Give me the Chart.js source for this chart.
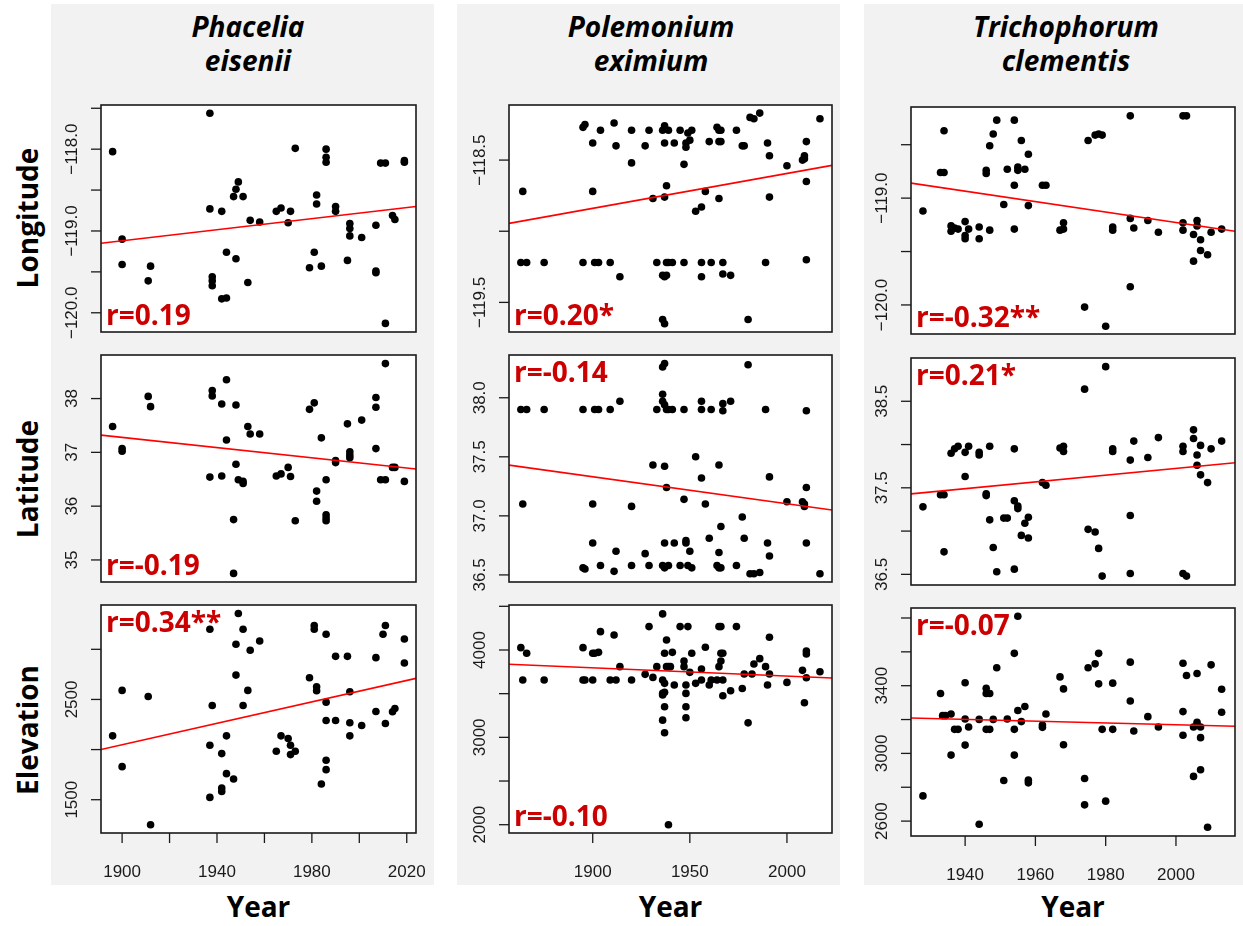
<!DOCTYPE html>
<html>
<head>
<meta charset="utf-8">
<script src="https://cdn.jsdelivr.net/npm/chart.js@4.4.1/dist/chart.umd.min.js"></script>
<style>
  body { margin: 0; background: #fff; width: 1243px; height: 926px; position: relative; overflow: hidden; }
  .panel { position: absolute; top: 4px; height: 881px; background: #f2f2f2; }
  .title { position: absolute; top: 9px; width: 300px; text-align: center; font: italic 700 28px/34px "Open Sans", sans-serif; color: #000; }
  .rowlab { position: absolute; width: 220px; height: 34px; text-align: center; font: 700 28px/34px "Open Sans", sans-serif; transform: rotate(-90deg); }
  .xlab { position: absolute; top: 889px; width: 200px; text-align: center; font: 700 28px/34px "Open Sans", sans-serif; }
  canvas { position: absolute; }
</style>
</head>
<body>
<script>
// ---- Phacelia eisenii ----
const phaceliaLonYear = [1896, 1900, 1900, 1911, 1912, 1937, 1937, 1938, 1938, 1938,
  1942, 1944, 1942, 1944, 1947, 1948, 1949, 1951, 1948, 1953,
  1954, 1958, 1965, 1967, 1971, 1970, 1973, 1982, 1982, 1981,
  1979, 1984, 1986, 1986, 1986, 1990, 1990, 1996, 1996, 1996,
  1995, 2001, 2007, 2007, 2007, 2009, 2011, 2011, 2014, 2015,
  2019, 2019];
const phaceliaLon = [-118.03, -119.10, -119.41, -119.61, -119.43, -117.56, -118.73, -119.56, -119.61, -119.67,
  -118.76, -119.26, -119.83, -119.82, -118.58, -118.49, -118.40, -118.58, -119.34, -119.63,
  -118.87, -118.89, -118.76, -118.72, -118.76, -118.90, -117.99, -118.56, -118.67, -119.26,
  -119.45, -119.43, -118.00, -118.10, -118.16, -118.70, -118.76, -118.91, -118.97, -119.06,
  -119.36, -119.08, -118.93, -119.49, -119.51, -118.17, -118.17, -120.13, -118.81, -118.86,
  -118.14, -118.16];

const phaceliaLatYear = [1896, 1900, 1900, 1911, 1912, 1938, 1938, 1937, 1942, 1942,
  1944, 1944, 1948, 1948, 1947, 1947, 1949, 1951, 1951, 1953,
  1954, 1958, 1965, 1967, 1970, 1971, 1973, 1979, 1981, 1982,
  1982, 1984, 1986, 1986, 1986, 1986, 1990, 1990, 1995, 1996,
  1996, 1996, 2001, 2007, 2007, 2007, 2009, 2011, 2011, 2014,
  2015, 2019];
const phaceliaLat = [37.48, 37.07, 37.02, 38.04, 37.85, 38.15, 38.05, 36.54, 37.90, 36.56,
  38.35, 37.23, 37.88, 36.78, 35.75, 34.75, 36.49, 36.46, 36.42, 37.48,
  37.34, 37.34, 36.56, 36.60, 36.72, 36.55, 35.73, 37.80, 37.92, 36.28,
  36.09, 37.27, 36.49, 35.84, 35.78, 35.73, 36.85, 36.81, 37.53, 37.01,
  36.95, 36.90, 37.60, 38.02, 37.84, 37.07, 36.49, 36.49, 38.65, 36.72,
  36.72, 36.46];

const phaceliaElevYear = [1896, 1900, 1900, 1911, 1912, 1937, 1938, 1937, 1937, 1942,
  1942, 1942, 1944, 1944, 1947, 1948, 1948, 1949, 1951, 1951,
  1953, 1954, 1958, 1965, 1967, 1970, 1971, 1971, 1973, 1979,
  1981, 1981, 1982, 1982, 1986, 1986, 1986, 1986, 1986, 1984,
  1990, 1990, 1995, 1996, 1996, 1996, 2001, 2007, 2007, 2011,
  2010, 2011, 2014, 2015, 2019, 2019];
const phaceliaElev = [2137, 2590, 1830, 2530, 1250, 3200, 2440, 1523, 2043, 1960,
  1617, 1583, 2137, 1760, 1707, 3050, 2743, 3357, 3200, 2440,
  2590, 2990, 3083, 1983, 2137, 2110, 2043, 1950, 1983, 2717,
  3237, 3200, 2627, 2587, 3150, 2473, 2290, 1893, 1800, 1657,
  2930, 2290, 2930, 2577, 2267, 2137, 2240, 2917, 2380, 3237,
  3150, 2260, 2377, 2410, 3103, 2863];

// ---- Polemonium eximium ----
const polemoniumLonYear = [1864, 1863, 1866, 1875, 1895, 1896, 1895, 1900, 1900, 1901,
  1903, 1904, 1909, 1911, 1912, 1914, 1920, 1920, 1927, 1929,
  1931, 1933, 1936, 1937, 1937, 1939, 1937, 1938, 1936, 1937,
  1938, 1938, 1939, 1941, 1936, 1937, 1942, 1945, 1947, 1947,
  1948, 1948, 1949, 1950, 1951, 1953, 1956, 1956, 1956, 1958,
  1960, 1961, 1964, 1965, 1966, 1965, 1966, 1965, 1967, 1967,
  1971, 1974, 1977, 1978, 1980, 1981, 1983, 1986, 1989, 1990,
  1991, 1991, 2000, 2008, 2009, 2009, 2010, 2010, 2010, 2017];
const polemoniumLon = [-118.72, -119.22, -119.22, -119.22, -118.27, -118.25, -119.22, -118.38, -118.72, -119.22,
  -119.22, -118.29, -119.22, -118.24, -118.40, -119.32, -118.29, -118.52, -118.40, -118.29,
  -118.77, -119.22, -118.29, -118.26, -118.38, -118.29, -118.76, -118.68, -119.31, -119.32,
  -119.31, -119.22, -119.22, -119.22, -119.62, -119.65, -118.38, -118.29, -118.53, -119.22,
  -118.38, -118.41, -118.31, -118.36, -118.29, -118.86, -118.83, -119.22, -119.32, -118.72,
  -118.37, -119.22, -118.27, -118.29, -118.29, -118.37, -118.37, -118.77, -119.22, -119.30,
  -119.31, -118.29, -118.40, -118.40, -119.62, -118.20, -118.21, -118.17, -119.22, -118.38,
  -118.47, -118.76, -118.54, -118.50, -118.49, -118.47, -118.37, -118.65, -119.20, -118.21];

const polemoniumLatYear = [1863, 1866, 1864, 1875, 1895, 1895, 1896, 1900, 1900, 1901,
  1903, 1904, 1909, 1911, 1912, 1914, 1920, 1920, 1927, 1929,
  1931, 1933, 1936, 1937, 1936, 1936, 1937, 1938, 1939, 1941,
  1937, 1938, 1937, 1936, 1937, 1939, 1942, 1945, 1947, 1947,
  1948, 1948, 1950, 1949, 1951, 1953, 1956, 1956, 1956, 1958,
  1960, 1961, 1964, 1965, 1965, 1965, 1966, 1966, 1967, 1967,
  1971, 1974, 1977, 1978, 1980, 1981, 1983, 1986, 1989, 1990,
  1991, 1991, 2000, 2008, 2009, 2009, 2010, 2010, 2010, 2017];
const polemoniumLat = [37.90, 37.90, 37.10, 37.90, 37.90, 36.56, 36.55, 37.10, 36.77, 37.90,
  37.90, 36.58, 37.90, 36.53, 36.70, 37.97, 37.08, 36.58, 36.68, 36.58,
  37.43, 37.90, 38.26, 38.29, 38.03, 37.97, 37.94, 37.90, 37.90, 37.90,
  37.42, 37.24, 36.77, 36.58, 36.56, 36.58, 36.77, 36.58, 37.90, 37.14,
  36.79, 36.77, 36.70, 36.58, 36.56, 37.50, 37.32, 37.97, 37.90, 37.10,
  36.81, 37.90, 36.58, 37.43, 36.69, 36.56, 36.56, 36.91, 37.95, 37.89,
  37.97, 36.58, 36.99, 36.81, 38.28, 36.51, 36.51, 36.52, 37.90, 36.77,
  37.33, 36.66, 37.12, 37.12, 37.10, 37.08, 37.24, 37.89, 36.77, 36.51];

const polemoniumElevYear = [1863, 1866, 1864, 1875, 1895, 1895, 1896, 1900, 1900, 1901,
  1903, 1904, 1909, 1911, 1912, 1914, 1920, 1927, 1929, 1931,
  1933, 1936, 1936, 1936, 1936, 1937, 1937, 1936, 1937, 1937,
  1937, 1938, 1938, 1939, 1940, 1939, 1941, 1942, 1945, 1947,
  1947, 1948, 1948, 1948, 1948, 1949, 1950, 1951, 1953, 1956,
  1956, 1958, 1960, 1961, 1964, 1965, 1965, 1966, 1966, 1967,
  1966, 1967, 1967, 1971, 1974, 1977, 1978, 1980, 1982, 1983,
  1986, 1989, 1990, 1991, 1991, 2000, 2008, 2009, 2010, 2010,
  2010, 2017];
const polemoniumElev = [4027, 3962, 3656, 3656, 4027, 3656, 3656, 3962, 3656, 3962,
  3973, 4210, 3656, 4172, 3656, 3809, 3656, 3721, 4268, 3686,
  3809, 4413, 3656, 3503, 3484, 3515, 3350, 3197, 3052, 3962,
  3618, 4115, 3809, 3809, 3809, 2000, 3973, 3599, 4268, 3874,
  3809, 3599, 3503, 3350, 3224, 4268, 3744, 3962, 3618, 3782,
  3656, 4031, 3599, 3656, 3656, 3809, 4268, 4268, 3962, 3962,
  3874, 3656, 3476, 3534, 4268, 3560, 3725, 3166, 3725, 3840,
  3901, 3809, 3599, 3725, 4145, 3629, 3767, 3396, 3989, 3954,
  3683, 3751];

// ---- Trichophorum clementis ----
const trichophorumLonYear = [1928, 1933, 1934, 1934, 1936, 1936, 1937, 1938, 1940, 1940,
  1940, 1941, 1944, 1944, 1947, 1946, 1946, 1947, 1948, 1949,
  1951, 1952, 1954, 1954, 1954, 1955, 1955, 1956, 1957, 1958,
  1958, 1962, 1963, 1967, 1968, 1968, 1974, 1975, 1977, 1978,
  1979, 1980, 1982, 1982, 1987, 1987, 1987, 1988, 1992, 1995,
  2002, 2003, 2002, 2002, 2005, 2005, 2006, 2006, 2007, 2007,
  2009, 2010, 2013];
const trichophorumLon = [-119.12, -118.76, -118.76, -118.37, -119.26, -119.31, -119.28, -119.29, -119.22, -119.35,
  -119.38, -119.29, -119.27, -119.38, -119.30, -118.74, -118.77, -118.51, -118.40, -118.27,
  -119.06, -118.73, -118.27, -118.88, -119.29, -118.71, -118.74, -118.46, -118.73, -118.59,
  -119.07, -118.88, -118.88, -119.30, -119.23, -119.29, -120.02, -118.46, -118.41, -118.40,
  -118.41, -120.20, -119.27, -119.30, -118.23, -119.19, -119.83, -119.28, -119.21, -119.32,
  -118.23, -118.23, -119.23, -119.30, -119.34, -119.59, -119.21, -119.26, -119.39, -119.49,
  -119.53, -119.32, -119.29];

const trichophorumLatYear = [1928, 1933, 1934, 1934, 1936, 1937, 1938, 1940, 1941, 1940,
  1944, 1944, 1946, 1946, 1947, 1947, 1948, 1949, 1951, 1952,
  1954, 1954, 1955, 1955, 1954, 1956, 1957, 1958, 1958, 1962,
  1963, 1967, 1968, 1968, 1974, 1975, 1977, 1978, 1980, 1979,
  1982, 1982, 1987, 1987, 1987, 1988, 1992, 1995, 2002, 2002,
  2002, 2003, 2005, 2005, 2006, 2006, 2007, 2007, 2009, 2010,
  2013];
const trichophorumLat = [37.28, 37.42, 37.42, 36.76, 37.90, 37.95, 37.98, 37.91, 37.98, 37.63,
  37.88, 37.91, 37.43, 37.41, 37.98, 37.13, 36.81, 36.53, 37.15, 37.15,
  37.95, 37.35, 37.29, 37.26, 36.56, 36.95, 37.09, 37.16, 36.92, 37.56,
  37.53, 37.96, 37.98, 37.92, 38.64, 37.02, 36.99, 36.80, 38.90, 36.48,
  37.95, 37.92, 37.82, 37.18, 36.51, 38.04, 37.85, 38.08, 37.98, 37.92,
  36.51, 36.48, 38.17, 38.07, 37.88, 37.76, 37.99, 37.65, 37.56, 37.95,
  38.04];

const trichophorumElevYear = [1928, 1933, 1933.6, 1934.4, 1936, 1936, 1937, 1938, 1940, 1940,
  1940, 1941, 1944, 1944, 1946, 1946, 1946, 1947, 1947, 1948,
  1949, 1951, 1952, 1954, 1954, 1954, 1955, 1955, 1956, 1957,
  1958, 1958, 1962, 1962, 1963, 1967, 1968, 1968, 1974, 1974,
  1975, 1977, 1978, 1978, 1979, 1980, 1982, 1982, 1987, 1987,
  1988, 1992, 1995, 2002, 2002, 2002, 2003, 2005, 2005, 2006,
  2006, 2007, 2007, 2007, 2009, 2010, 2013, 2013];
const trichophorumElev = [2749, 3354, 3223, 3223, 3233, 2990, 3142, 3142, 3203, 3417,
  3049, 3156, 3201, 2581, 3385, 3354, 3142, 3354, 3142, 3201,
  3506, 2840, 3203, 3591, 3142, 2990, 3810, 3253, 3188, 3277,
  2842, 2826, 3168, 3154, 3233, 3452, 3381, 3051, 2852, 2696,
  3506, 3529, 3591, 3411, 3142, 2718, 3415, 3142, 3539, 3310,
  3132, 3217, 3156, 3533, 3247, 3107, 3460, 3156, 2864, 3472,
  3184, 3156, 3093, 2903, 2564, 3523, 3379, 3243];

// fitted lines: value at the left and right edge of each panel (column by column)
const trendStart = [-119.15, 37.32, 2000, -118.945, 37.43, 3836, -118.86, 37.43, 3209];
const trendEnd = [-118.70, 36.69, 2710, -118.537, 37.05, 3679, -119.31, 37.79, 3160];
const rLabels = ['r=0.19', 'r=-0.19', 'r=0.34**', 'r=0.20*', 'r=-0.14', 'r=-0.10', 'r=-0.32**', 'r=0.21*', 'r=-0.07'];
const rAtTop = [false, false, true, false, true, false, false, true, true];

const speciesNames = [['Phacelia', 'eisenii'], ['Polemonium', 'eximium'], ['Trichophorum', 'clementis']];
const rowNames = ['Longitude', 'Latitude', 'Elevation'];

const xTicks = [[1900, 1920, 1940, 1960, 1980, 2000, 2020], [1900, 1950, 2000], [1940, 1960, 1980, 2000]];
const xTickLabels = [['1900', '', '1940', '', '1980', '', '2020'], ['1900', '1950', '2000'], ['1940', '1960', '1980', '2000']];

const yTicks = [
  [-117.5, -118, -118.5, -119, -119.5, -120], [35, 36, 37, 38], [1500, 2000, 2500, 3000],
  [-118.5, -119, -119.5], [36.5, 37, 37.5, 38], [2000, 2500, 3000, 3500, 4000, 4500],
  [-118.5, -119, -119.5, -120], [36.5, 37, 37.5, 38, 38.5], [2600, 2800, 3000, 3200, 3400, 3600, 3800]
];
const yTickLabels = [
  ['', '\u2212118.0', '', '\u2212119.0', '', '\u2212120.0'], ['35', '36', '37', '38'], ['1500', '', '2500', ''],
  ['\u2212118.5', '', '\u2212119.5'], ['36.5', '37.0', '37.5', '38.0'], ['2000', '', '3000', '', '4000', ''],
  ['', '\u2212119.0', '', '\u2212120.0'], ['36.5', '', '37.5', '', '38.5'], ['2600', '', '3000', '', '3400', '', '']
];

// axis limits per column / panel
const xLimits = [[1891.1, 2023.9], [1856.9, 2023.2], [1924.6, 2016.8]];
const yLimits = [
  [-120.235, -117.46], [34.59, 38.81], [1168, 3442],
  [-119.708, -118.113], [36.44, 38.362], [1905, 4515],
  [-120.272, -118.147], [36.377, 39.0], [2512, 3859]
];

const seriesX = [phaceliaLonYear, phaceliaLatYear, phaceliaElevYear,
  polemoniumLonYear, polemoniumLatYear, polemoniumElevYear,
  trichophorumLonYear, trichophorumLatYear, trichophorumElevYear];
const seriesY = [phaceliaLon, phaceliaLat, phaceliaElev,
  polemoniumLon, polemoniumLat, polemoniumElev,
  trichophorumLon, trichophorumLat, trichophorumElev];

// plot box positions on the page
const colBox = [[101, 416], [509, 832], [911, 1235]];
const rowBox = [
  [[105, 332], [355, 582], [605, 833]],
  [[105, 332], [355, 582], [605, 833]],
  [[107, 334], [358, 585], [608, 836]]
];
const greyPanels = [[51, 434], [457, 840], [864, 1243]];
const titleCenters = [248, 651, 1066];
const rowLabelCenters = [218, 479, 730];

function addDiv(cls, text, css) {
  const d = document.createElement('div');
  d.className = cls;
  d.innerHTML = text;
  Object.assign(d.style, css);
  document.body.appendChild(d);
  return d;
}

greyPanels.forEach(g => addDiv('panel', '', { left: g[0] + 'px', width: (g[1] - g[0]) + 'px' }));
speciesNames.forEach((n, c) => addDiv('title', n.join('<br>'), { left: (titleCenters[c] - 150) + 'px' }));
rowNames.forEach((n, r) => addDiv('rowlab', n, { left: (27 - 110) + 'px', top: (rowLabelCenters[r] - 17) + 'px' }));
colBox.forEach(b => addDiv('xlab', 'Year', { left: ((b[0] + b[1]) / 2 - 100) + 'px' }));

// box, ticks, tick labels and r value drawn around the chart area
const framePlugin = {
  id: 'frame',
  beforeDraw(chart) {
    const a = chart.chartArea, ctx = chart.ctx;
    ctx.save();
    ctx.fillStyle = '#fff';
    ctx.fillRect(a.left, a.top, a.right - a.left, a.bottom - a.top);
    ctx.restore();
  },
  afterDraw(chart, args, o) {
    const ctx = chart.ctx, a = chart.chartArea;
    const xs = chart.scales.x, ys = chart.scales.y;
    ctx.save();
    ctx.strokeStyle = '#1a1a1a';
    ctx.lineWidth = 1.6;
    ctx.strokeRect(a.left, a.top, a.right - a.left, a.bottom - a.top);

    ctx.lineWidth = 1.3;
    ctx.fillStyle = '#1a1a1a';
    ctx.font = '17px "Liberation Sans", Arial, sans-serif';
    o.yTicks.forEach((v, i) => {
      const py = ys.getPixelForValue(v);
      ctx.beginPath();
      ctx.moveTo(a.left - 10, py);
      ctx.lineTo(a.left, py);
      ctx.stroke();
      if (o.yLabels[i]) {
        ctx.save();
        ctx.translate(a.left - 24, py);
        ctx.rotate(-Math.PI / 2);
        ctx.textAlign = 'center';
        ctx.textBaseline = 'alphabetic';
        ctx.fillText(o.yLabels[i], 0, 0);
        ctx.restore();
      }
    });
    if (o.xTicks) {
      o.xTicks.forEach((v, i) => {
        const px = xs.getPixelForValue(v);
        ctx.beginPath();
        ctx.moveTo(px, a.bottom);
        ctx.lineTo(px, a.bottom + 10);
        ctx.stroke();
        if (o.xLabels[i]) {
          ctx.textAlign = 'center';
          ctx.textBaseline = 'alphabetic';
          ctx.fillText(o.xLabels[i], px, a.bottom + 44);
        }
      });
    }
    ctx.fillStyle = '#cc0000';
    ctx.font = 'bold 28px "Open Sans", sans-serif';
    ctx.textAlign = 'left';
    ctx.textBaseline = 'alphabetic';
    ctx.fillText(o.r, a.left + 5, o.top ? a.top + 27 : a.bottom - 7);
    ctx.restore();
  }
};

for (let c = 0; c < 3; c++) {
  for (let r = 0; r < 3; r++) {
    const k = c * 3 + r;
    const [left, right] = colBox[c];
    const [top, bottom] = rowBox[c][r];
    const cv = document.createElement('canvas');
    cv.width = right - left + 70;
    cv.height = bottom - top + 70;
    cv.style.left = (left - 60) + 'px';
    cv.style.top = (top - 10) + 'px';
    document.body.appendChild(cv);

    const pts = seriesX[k].map((x, i) => ({ x: x, y: seriesY[k][i] }));
    const [xmin, xmax] = xLimits[c];

    new Chart(cv, {
      type: 'scatter',
      data: {
        datasets: [
          {
            type: 'line',
            data: [{ x: xmin, y: trendStart[k] }, { x: xmax, y: trendEnd[k] }],
            borderColor: '#ff0000',
            borderWidth: 1.6,
            pointRadius: 0,
            order: 0
          },
          {
            data: pts,
            backgroundColor: '#000',
            borderWidth: 0,
            pointRadius: 3.8,
            order: 1
          }
        ]
      },
      options: {
        responsive: false,
        animation: false,
        events: [],
        devicePixelRatio: 1,
        layout: { padding: { left: 60, top: 10, right: 10, bottom: 60 } },
        scales: {
          x: { type: 'linear', display: false, min: xmin, max: xmax },
          y: { type: 'linear', display: false, min: yLimits[k][0], max: yLimits[k][1] }
        },
        plugins: {
          legend: { display: false },
          tooltip: { enabled: false },
          frame: {
            yTicks: yTicks[k],
            yLabels: yTickLabels[k],
            xTicks: r === 2 ? xTicks[c] : null,
            xLabels: xTickLabels[c],
            r: rLabels[k],
            top: rAtTop[k]
          }
        }
      },
      plugins: [framePlugin]
    });
  }
}
</script>
</body>
</html>
